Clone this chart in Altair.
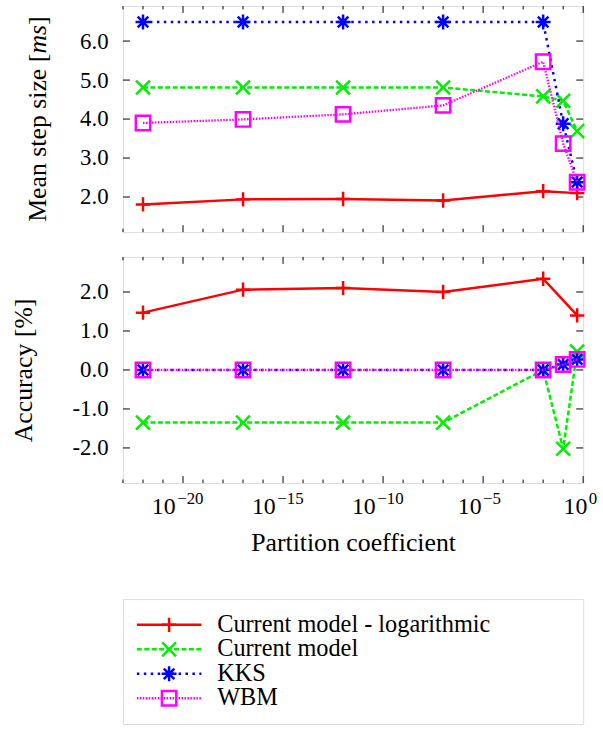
import altair as alt
import pandas as pd

# ---------------- data ----------------
partition = [1e-22, 1e-17, 1e-12, 1e-7, 1e-2, 1e-1, 0.5]
series_names = ["Current model - logarithmic", "Current model", "KKS", "WBM"]

step_log = [1.81, 1.94, 1.95, 1.91, 2.15, None, 2.10]
step_cur = [4.81, 4.81, 4.81, 4.81, 4.58, 4.47, 3.69]
step_kks = [6.49, 6.49, 6.49, 6.49, 6.49, 3.88, 2.38]
step_wbm = [3.90, 3.99, 4.12, 4.35, 5.47, 3.37, 2.38]

acc_log = [1.47, 2.06, 2.10, 2.00, 2.34, None, 1.40]
acc_cur = [-1.35, -1.35, -1.35, -1.35, 0.0, -2.02, 0.47]
acc_kks = [0.0, 0.0, 0.0, 0.0, 0.0, 0.14, 0.27]
acc_wbm = [0.0, 0.0, 0.0, 0.0, 0.0, 0.14, 0.27]

x_major = [1e-20, 1e-15, 1e-10, 1e-5, 1]
x_major_base = ["10", "10", "10", "10", "10"]
x_major_exp = ["\u221220", "\u221215", "\u221210", "\u22125", "0"]
x_minor = [1e-23, 1e-22, 1e-21, 1e-19, 1e-18, 1e-17, 1e-16, 1e-14, 1e-13,
           1e-12, 1e-11, 1e-9, 1e-8, 1e-7, 1e-6, 1e-4, 1e-3, 1e-2, 1e-1]
step_ticks = [2, 3, 4, 5, 6]
acc_ticks = [-2, -1, 0, 1, 2]

step_title_parts = ["Mean step size [", "ms", "]"]
step_title_italic = [False, True, False]
acc_title = "Accuracy [%]"
x_title = "Partition coefficient"

# ---------------- styles ----------------
FONT = "Liberation Serif, DejaVu Serif, serif"
W, H = 464, 228
LH = 126
TS = 26  # title font size
styles = {
    "Current model - logarithmic": dict(color="#ff0000", dash=None, lw=2.5,
                                        shape="M-1,0L1,0M0,-1L0,1", size=210),
    "Current model": dict(color="#00ee00", dash=[5, 2.5], lw=2.5,
                          shape="M-1,-1L1,1M-1,1L1,-1", size=196),
    "KKS": dict(color="#0000ff", dash=[2.5, 4.5], lw=2.5,
                shape="M-1,0L1,0M0,-1L0,1M-0.71,-0.71L0.71,0.71M-0.71,0.71L0.71,-0.71", size=225),
    "WBM": dict(color="#ff00ff", dash=[1.5, 1.5], lw=2.3,
                shape="square", size=210),
}
# Times/Liberation advance widths (em) of the title pieces, to chain them
title_piece_em = [6.526, 1.111, 0.333]


def long_df(cols):
    rows = []
    for name, vals in zip(series_names, cols):
        for xv, yv in zip(partition, vals):
            if yv is not None:
                rows.append({"x": xv, "y": yv, "series": name})
    return pd.DataFrame(rows)


def num_label():
    return ("datum.value < 0 ? '-' + format(-datum.value, '.1f') : "
            "format(datum.value, '.1f')")


def panel(df, ydomain, yticks, ytitle, title_x, show_x):
    xscale = alt.Scale(type="log", domain=[1e-23, 1], nice=False)
    yscale = alt.Scale(domain=ydomain, nice=False, zero=False)
    if show_x:
        xaxis = alt.Axis(values=x_major, labels=False, ticks=False,
                         domain=False, grid=False,
                         title=x_title, titleFont=FONT,
                         titleFontSize=TS, titleFontWeight="normal",
                         titleColor="black", titleY=68,
                         titleBaseline="alphabetic")
    else:
        xaxis = None
    yaxis_kw = dict(values=yticks, labelExpr=num_label(), ticks=False,
                    domain=False, grid=False, labelPadding=15, labelFont=FONT,
                    labelFontSize=23, labelColor="black")
    if ytitle is None:
        yaxis = alt.Axis(title=None, **yaxis_kw)
    else:
        yaxis = alt.Axis(title=ytitle, titleFont=FONT, titleFontSize=TS,
                         titleFontWeight="normal", titleColor="black",
                         titleX=title_x, titleBaseline="middle", **yaxis_kw)
    xe = alt.X("x:Q", scale=xscale, axis=xaxis)
    ye = alt.Y("y:Q", scale=yscale, axis=yaxis)

    layers = []
    # frame ticks (inward)
    xmaj = pd.DataFrame({"x": x_major})
    xmin = pd.DataFrame({"x": x_minor})
    ytk = pd.DataFrame({"y": yticks})
    rule = dict(color="black", strokeWidth=1)
    layers.append(alt.Chart(xmaj).mark_rule(**rule).encode(x=xe, y=alt.value(H), y2=alt.value(H - 7)))
    layers.append(alt.Chart(xmaj).mark_rule(**rule).encode(x=xe, y=alt.value(0), y2=alt.value(7)))
    layers.append(alt.Chart(xmin).mark_rule(**rule).encode(x=xe, y=alt.value(H), y2=alt.value(H - 3.5)))
    layers.append(alt.Chart(xmin).mark_rule(**rule).encode(x=xe, y=alt.value(0), y2=alt.value(3.5)))
    layers.append(alt.Chart(ytk).mark_rule(**rule).encode(y=ye, x=alt.value(0), x2=alt.value(7)))
    layers.append(alt.Chart(ytk).mark_rule(**rule).encode(y=ye, x=alt.value(W), x2=alt.value(W - 7)))

    if ytitle is None:
        # rotated title made of plain + italic pieces, chained bottom to top
        total = sum(title_piece_em) * TS
        ypos = H / 2 + total / 2
        for txt, ital, em in zip(step_title_parts, step_title_italic, title_piece_em):
            one = pd.DataFrame({"t": [txt]})
            layers.append(alt.Chart(one).mark_text(align="left", baseline="middle", angle=270,
                                                   font=FONT, fontSize=TS, color="black",
                                                   fontStyle="italic" if ital else "normal")
                          .encode(x=alt.value(title_x), y=alt.value(ypos), text="t:N"))
            ypos -= em * TS

    if show_x:
        # tick labels as 10 with a raised exponent
        for xv, b, e in zip(x_major, x_major_base, x_major_exp):
            one = pd.DataFrame({"x": [xv], "b": [b], "e": [e]})
            dx = 10 - 5.8 * len(e)
            layers.append(alt.Chart(one).mark_text(align="right", baseline="alphabetic",
                                                   font=FONT, fontSize=24, color="black", dx=dx)
                          .encode(x=xe, y=alt.value(H + 31), text="b:N"))
            layers.append(alt.Chart(one).mark_text(align="left", baseline="alphabetic",
                                                   font=FONT, fontSize=17, color="black", dx=dx + 1.5)
                          .encode(x=xe, y=alt.value(H + 21), text="e:N"))

    for name in series_names:
        st = styles[name]
        base = alt.Chart(df).transform_filter(alt.datum.series == name)
        lkw = dict(color=st["color"], strokeWidth=st["lw"])
        if st["dash"]:
            lkw["strokeDash"] = st["dash"]
        layers.append(base.mark_line(**lkw).encode(x=xe, y=ye))
        layers.append(base.mark_point(shape=st["shape"], size=st["size"], filled=False,
                                      color=st["color"], strokeWidth=2.5, opacity=1)
                      .encode(x=xe, y=ye))
    return alt.layer(*layers).properties(width=W, height=H)


top = panel(long_df([step_log, step_cur, step_kks, step_wbm]), [1.1, 6.9],
            step_ticks, None, -85.5, False)
bottom = panel(long_df([acc_log, acc_cur, acc_kks, acc_wbm]), [-2.9, 2.9],
               acc_ticks, acc_title, -100.5, True)

# ---------------- legend panel ----------------
leg_df = pd.DataFrame({"series": series_names})
ly = alt.Y("series:N", axis=None,
           scale=alt.Scale(type="point", domain=series_names, range=[26, 100], padding=0))
leg_layers = []
for name in series_names:
    st = styles[name]
    base = alt.Chart(leg_df).transform_filter(alt.datum.series == name)
    lkw = dict(color=st["color"], strokeWidth=st["lw"])
    if st["dash"]:
        lkw["strokeDash"] = st["dash"]
    leg_layers.append(base.mark_rule(**lkw).encode(y=ly, x=alt.value(14), x2=alt.value(79)))
    leg_layers.append(base.mark_point(shape=st["shape"], size=st["size"], filled=False,
                                      color=st["color"], strokeWidth=2.5, opacity=1)
                      .encode(y=ly, x=alt.value(46.5)))
leg_layers.append(alt.Chart(leg_df).mark_text(align="left", baseline="middle", font=FONT,
                                              fontSize=24.5, color="black")
                  .encode(y=ly, x=alt.value(95), text="series:N"))
legend = alt.layer(*leg_layers).properties(width=W, height=LH)

chart = alt.vconcat(alt.vconcat(top, bottom, spacing=23), legend, spacing=42).properties(
    padding={"left": 9, "top": 2, "right": 5, "bottom": 5}
).configure_view(stroke="black", strokeWidth=1.2).configure(background="white")

chart.save("out.html", embed_options={"renderer": "svg", "actions": False})
